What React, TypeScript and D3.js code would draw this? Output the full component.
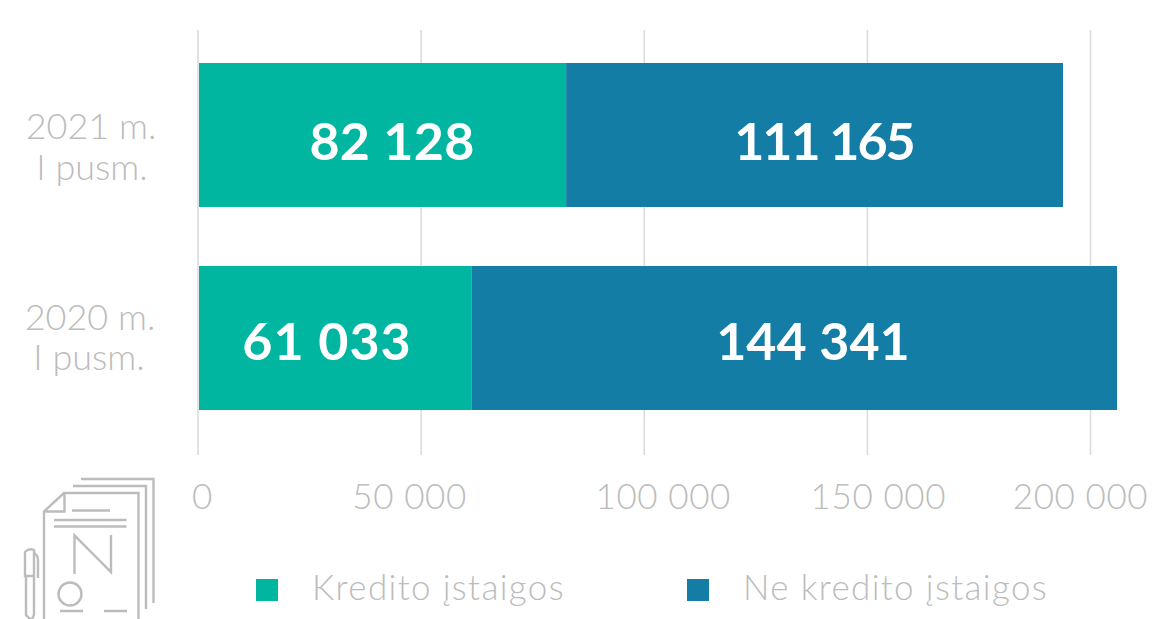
import React from "react";
import * as d3 from "d3";

const categories = ["2021 m.|I pusm.", "2020 m.|I pusm."];
const creditInstitutions = [82128, 61033];
const nonCreditInstitutions = [111165, 144341];
const seriesNames = ["Kredito įstaigos", "Ne kredito įstaigos"];
const tickValues = [0, 50000, 100000, 150000, 200000];
const tickLabelShift = [4.5, -11.5, 19, 11, -10];
const colors = ["#00b6a0", "#147da5"];
const W = 1153, H = 619;
const FONT = "Lato, 'Open Sans', sans-serif";
const GREY = "#bcbcbc";

const fmt = (v: number) => d3.format(",")(v).replace(/,/g, " ");

export default function App() {
  const x = d3.scaleLinear().domain([0, 200000]).range([199, 1093]);
  const y = d3.scaleBand().domain(categories).range([30, 443]).paddingInner(59 / 203).paddingOuter(33 / 203);
  const bandY = (c: string) => y(c) as number;
  const gridX = d3.scaleLinear().domain([0, 200000]).range([198, 1090.5]);
  const catY = [[76, 117], [64, 104]];
  return (
    <svg width={W} height={H} style={{ position: "absolute", left: 0, top: 0, background: "#fff" }} fontFamily={FONT}>
      {tickValues.map((t, i) => (
        <g key={t}>
          <line x1={gridX(t)} x2={gridX(t)} y1={30} y2={455} stroke="#dcdcdc" strokeWidth={1.6} />
          <text x={gridX(t) + tickLabelShift[i]} y={509} textAnchor="middle" fontSize={35} letterSpacing={0.6} fontWeight={300} fill={GREY}>{fmt(t)}</text>
        </g>
      ))}
      {categories.map((c, i) => {
        const b = bandY(c);
        const h = y.bandwidth();
        const [a, p] = c.split("|");
        return (
          <g key={c}>
            <rect x={x(0)} y={b} width={x(creditInstitutions[i]) - x(0)} height={h} fill={colors[0]} />
            <rect x={x(creditInstitutions[i])} y={b} width={x(creditInstitutions[i] + nonCreditInstitutions[i]) - x(creditInstitutions[i])} height={h} fill={colors[1]} />
            <text x={i === 0 ? 392 : 327} y={b + (i === 0 ? 97 : 94)} textAnchor="middle" fontSize={52} letterSpacing={i === 0 ? 0.3 : 1} fontWeight={700} fill="#fff">{fmt(creditInstitutions[i])}</text>
            <text x={i === 0 ? 824 : 813} y={b + (i === 0 ? 97 : 94)} textAnchor="middle" fontSize={52} letterSpacing={i === 0 ? -2 : 0} fontWeight={700} fill="#fff">{fmt(nonCreditInstitutions[i])}</text>
            <text x={i === 0 ? 91 : 90} y={b + catY[i][0]} textAnchor="middle" fontSize={36} fontWeight={300} fill={GREY}>{a}</text>
            <text x={i === 0 ? 92 : 89} y={b + catY[i][1]} textAnchor="middle" fontSize={36} fontWeight={300} fill={GREY}>{p}</text>
          </g>
        );
      })}
      {seriesNames.map((s, i) => {
        const lx = i === 0 ? 256 : 687;
        return (
          <g key={s}>
            <rect x={lx} y={579} width={22} height={22} fill={colors[i]} />
            <text x={lx + 56} y={600} fontSize={35} letterSpacing={1.35} fontWeight={300} fill={GREY}>{s}</text>
          </g>
        );
      })}
      <g fill="none" stroke={GREY} strokeWidth={2.4}>
        <path d="M44 619V511.5L64 493H138.5V619" />
        <path d="M44 511.5H64.5V493" />
        <path d="M73 486H146V609" />
        <path d="M81 479H153.5V603" />
        <path d="M72 510.5H110M54 520H126.5M54 526.5H126.5" />
        <path d="M74.5 574V535.5L111 572V535" />
        <circle cx={70} cy={594} r={11.5} />
        <path d="M60 611H83M104 611H127" />
        <path d="M25 576V552Q29 548 34 550V576ZM34 553Q38 555 38 560V578M26 576V615L30 619H32L34 615V576" />
      </g>
    </svg>
  );
}
